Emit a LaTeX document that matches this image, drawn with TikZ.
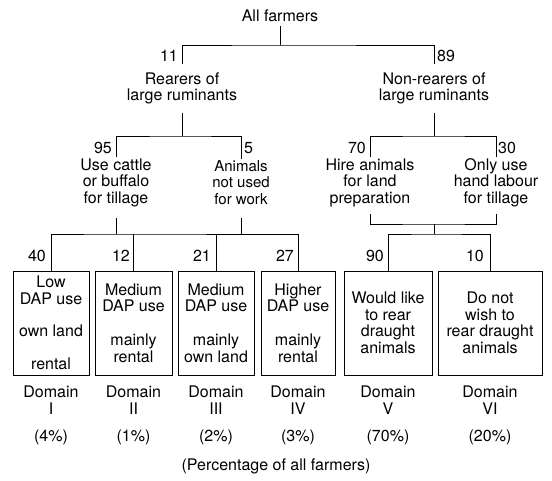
\documentclass[tikz,border=0pt]{standalone}
\usepackage{fontspec}
\setmainfont{TeX Gyre Heros}
\usetikzlibrary{positioning}

\begin{document}
\begin{tikzpicture}[
        x=1pt, y=-1pt,
        txt/.style={align=center, inner sep=1pt, font=\fontsize{16}{16.5}\selectfont},
        num/.style={inner sep=2pt, font=\fontsize{16}{16.5}\selectfont},
        box/.style={draw, line width=0.9pt, align=center, minimum height=104pt, inner sep=0pt, font=\fontsize{16}{16.5}\selectfont},
        dom/.style={align=center, inner sep=1pt, font=\fontsize{16}{17.5}\selectfont},
        ln/.style={line width=0.7pt}
      ]
      \useasboundingbox (0,0) rectangle (552,480);
      \node[txt] (all) at (280,16) {All farmers};
      \node[txt, inner ysep=8pt] (rear)    at (182,88.5) {Rearers of\\large ruminants};
      \node[txt, inner ysep=8pt] (nonrear) at (434,88.5) {Non-rearers of\\large ruminants};
      \node[txt] (cattle)   at (116,182.5) {Use cattle\\or buffalo\\for tillage};
      \node[txt, font=\fontsize{15}{16.5}\selectfont] (notwork) at (241,182.5) {Animals\\not used\\for work};
      \node[txt] (hire)     at (370,182.5) {Hire animals\\for land\\preparation};
      \node[txt] (handonly) at (496,182.5) {Only use\\hand labour\\for tillage};
      \coordinate (top)    at (280,45);
      \coordinate (jrear)  at (182,136);
      \coordinate (jnon)   at (434,136);
      \coordinate (jlow)   at (116,234);
      \coordinate (jwork)  at (241,234);
      \coordinate (jhire)  at (434,224);
      \coordinate (jright) at (434,234);
      \node[box, minimum width=76pt] (b1) at (51,323)    {Low\\DAP use\\[16pt]own land\\[16pt]rental};
      \node[box, minimum width=77pt] (b2) at (133.5,323) {Medium\\DAP use\\[17.5pt]mainly\\rental};
      \node[box, minimum width=76pt] (b3) at (216,323)   {Medium\\DAP use\\[17.5pt]mainly\\own land};
      \node[box, minimum width=74pt] (b4) at (298,323)   {Higher\\DAP use\\[17.5pt]mainly\\rental};
      \node[box, minimum width=88pt] (b5) at (388,323)   {Would like\\to rear\\draught\\animals};
      \node[box, minimum width=104pt] (b6) at (490,323)  {Do not\\wish to\\rear draught\\animals};
      \node[num, anchor=east] (n11) at (180,56)  {11};
      \node[num, anchor=west] (n89) at (435,56)  {89};
      \node[num, anchor=east] (n95) at (114,148) {95};
      \node[num, anchor=west] (n5)  at (242,148) {5};
      \node[num, anchor=east] (n70) at (368,148) {70};
      \node[num, anchor=west] (n30) at (496,148) {30};
      \node[num, anchor=east] (n40) at (48,256)  {40};
      \node[num, anchor=east] (n12) at (132,256) {12};
      \node[num, anchor=east] (n21) at (213,256) {21};
      \node[num, anchor=east] (n27) at (296,256) {27};
      \node[num, anchor=east] (n90) at (386,256) {90};
      \node[num, anchor=east] (n10) at (486,256) {10};
      \node[dom, below=9pt of b1] (d1) {Domain\\I};
      \node[dom, below=9pt of b2] (d2) {Domain\\II};
      \node[dom, below=9pt of b3] (d3) {Domain\\III};
      \node[dom, below=9pt of b4] (d4) {Domain\\IV};
      \node[dom, below=9pt of b5] (d5) {Domain\\V};
      \node[dom, below=9pt of b6] (d6) {Domain\\VI};
      \node[dom, below=13pt of d1] (p1) {(4\%)};
      \node[dom, below=13pt of d2] (p2) {(1\%)};
      \node[dom, below=13pt of d3] (p3) {(2\%)};
      \node[dom, below=13pt of d4] (p4) {(3\%)};
      \node[dom, below=13pt of d5] (p5) {(70\%)};
      \node[dom, below=13pt of d6] (p6) {(20\%)};
      \node[txt] (note) at (276,466) {(Percentage of all farmers)};
      \draw[ln, shorten <=3pt] (all) -- (top);
      \draw[ln] (rear) |- (top) -| (nonrear);
      \draw[ln] (rear) -- (jrear);
      \draw[ln] (nonrear) -- (jnon);
      \draw[ln] (cattle) |- (jrear) -| (notwork);
      \draw[ln] (hire) |- (jnon) -| (handonly);
      \draw[ln, shorten <=10pt] (cattle) -- (jlow);
      \draw[ln, shorten <=12pt] (notwork) -- (jwork);
      \draw[ln, shorten <=6pt, shorten >=6pt] (hire) |- (jhire) -| (handonly);
      \draw[ln] (jhire) -- (jright);
      \draw[ln] (b1) |- (jlow) -| (b4);
      \draw[ln] (b2) -- (b2 |- jlow);
      \draw[ln] (b3) -- (b3 |- jlow);
      \draw[ln] (b5) |- (jright) -| (b6);
    \end{tikzpicture}
\end{document}
